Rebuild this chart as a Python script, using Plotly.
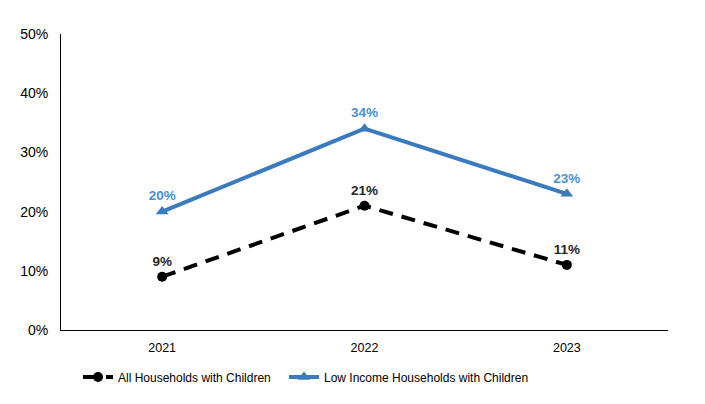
import plotly.graph_objects as go

years = ["2021", "2022", "2023"]
all_households = [9, 21, 11]
low_income = [20, 34, 23]
y_ticks = [0, 10, 20, 30, 40, 50]
y_labels = [f"{v}%" for v in y_ticks]

fig = go.Figure()
fig.add_trace(go.Scatter(
    x=years, y=all_households,
    mode="lines+markers+text",
    name="All Households with Children",
    line=dict(color="black", width=4, dash="14px,9px"),
    marker=dict(symbol="circle", size=10, color="black"),
    text=[f"{v}%" for v in all_households],
    textposition="top center",
    textfont=dict(family="Liberation Sans, Arial", size=13.5, color="#262626", weight="bold"),
    legend="legend",
))
fig.add_trace(go.Scatter(
    x=years, y=low_income,
    mode="lines+markers+text",
    name="Low Income Households with Children",
    line=dict(color="#3A7BBF", width=4),
    marker=dict(symbol="triangle-up", size=11, color="#3A7BBF"),
    text=[f"{v}%" for v in low_income],
    textposition="top center",
    textfont=dict(family="Liberation Sans, Arial", size=13.5, color="#4A8FD6", weight="bold"),
    legend="legend2",
))

leg = dict(orientation="h", xref="container", yref="container",
           xanchor="left", y=1 - 369 / 396, yanchor="middle", font=dict(size=12))

fig.update_layout(
    width=697, height=396,
    margin=dict(l=53, r=37, t=26, b=74, autoexpand=False),
    plot_bgcolor="white", paper_bgcolor="white",
    font=dict(family="Liberation Sans, Arial", size=14, color="black"),
    showlegend=True,
    legend=dict(leg, x=70 / 697),
    legend2=dict(leg, x=276 / 697),
    xaxis=dict(showline=True, linecolor="black", linewidth=1, showgrid=False,
               ticks="", range=[-0.5, 2.5], ticklabelstandoff=6, automargin=False,
               tickfont=dict(size=12.5)),
    yaxis=dict(showline=True, linecolor="black", linewidth=1, showgrid=False,
               range=[0, 50], tickvals=y_ticks, ticktext=y_labels, ticks="",
               zeroline=False, ticklabelstandoff=9, automargin=False),
)

fig.write_html("out.html")
